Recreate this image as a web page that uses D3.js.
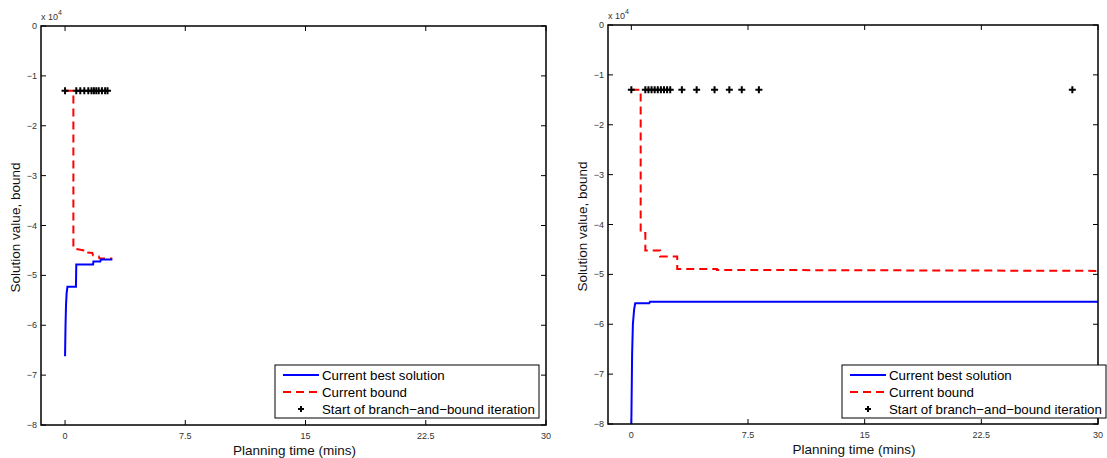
<!DOCTYPE html>
<html>
<head>
<meta charset="utf-8">
<script src="https://cdn.jsdelivr.net/npm/d3@7"></script>
<style>
  body { margin: 0; background: #fff; }
  svg { display: block; font-family: "Liberation Sans", Arial, sans-serif; }
</style>
</head>
<body>
<div id="chart"></div>
<script>
// values are in units of 10^4, time in minutes
var xTicks = [0, 7.5, 15, 22.5, 30];
var xTickLabels = ["0", "7.5", "15", "22.5", "30"];
var yTicks = [0, -1, -2, -3, -4, -5, -6, -7, -8];
var iterLevel = -1.3;

// left run
var leftBestX  = [0, 0.03, 0.06, 0.1, 0.15, 0.68, 0.7, 1.75, 1.77, 2.2, 2.25, 2.95];
var leftBestY  = [-6.62, -6.0, -5.6, -5.35, -5.23, -5.23, -4.78, -4.78, -4.72, -4.72, -4.68, -4.68];
var leftBoundX = [0, 0.52, 0.52, 1.2, 1.2, 1.7, 1.75, 2.1, 2.15, 2.95];
var leftBoundY = [-1.3, -1.3, -4.46, -4.5, -4.54, -4.55, -4.6, -4.62, -4.66, -4.66];
var leftIterX  = [0, 0.7, 0.95, 1.2, 1.45, 1.65, 1.8, 1.95, 2.1, 2.3, 2.5, 2.65];

// right run
var rightBestX  = [0, 0.05, 0.1, 0.18, 0.25, 1.15, 1.2, 30];
var rightBestY  = [-8, -6.6, -6.0, -5.7, -5.58, -5.58, -5.55, -5.55];
var rightBoundX = [0, 0.6, 0.6, 0.9, 0.9, 1.85, 1.85, 2.95, 2.95, 5.5, 5.5, 30];
var rightBoundY = [-1.3, -1.3, -4.17, -4.17, -4.52, -4.52, -4.64, -4.64, -4.89, -4.89, -4.91, -4.93];
var rightIterX  = [0, 0.9, 1.1, 1.3, 1.5, 1.7, 1.9, 2.1, 2.3, 2.5, 3.25, 4.2, 5.35, 6.3, 7.1, 8.2, 28.35];

var legendLabels = ["Current best solution", "Current bound", "Start of branch\u2212and\u2212bound iteration"];

var W = 1107, H = 458;
var svg = d3.select("#chart").append("svg")
    .attr("width", W)
    .attr("height", H);

function zip(xs, ys) {
    return xs.map(function(x, i) { return [x, ys[i]]; });
}

function drawPanel(box, bestX, bestY, boundX, boundY, iterX) {
    var x = d3.scaleLinear().domain([-1.5, 30]).range([box.left, box.right]);
    var y = d3.scaleLinear().domain([-8, 0]).range([box.bottom, box.top]);

    var g = svg.append("g");

    // ticks, inward on all four sides
    var tickLen = 5;
    g.append("g").selectAll("line").data(xTicks).enter().append("line")
        .attr("x1", d => x(d)).attr("x2", d => x(d))
        .attr("y1", box.bottom).attr("y2", box.bottom - tickLen)
        .attr("stroke", "#000").attr("stroke-width", 1);
    g.append("g").selectAll("line").data(xTicks).enter().append("line")
        .attr("x1", d => x(d)).attr("x2", d => x(d))
        .attr("y1", box.top).attr("y2", box.top + tickLen)
        .attr("stroke", "#000").attr("stroke-width", 1);
    g.append("g").selectAll("line").data(yTicks).enter().append("line")
        .attr("x1", box.left).attr("x2", box.left + tickLen)
        .attr("y1", d => y(d)).attr("y2", d => y(d))
        .attr("stroke", "#000").attr("stroke-width", 1);
    g.append("g").selectAll("line").data(yTicks).enter().append("line")
        .attr("x1", box.right).attr("x2", box.right - tickLen)
        .attr("y1", d => y(d)).attr("y2", d => y(d))
        .attr("stroke", "#000").attr("stroke-width", 1);

    // tick labels
    g.append("g").selectAll("text").data(xTicks).enter().append("text")
        .attr("x", d => x(d)).attr("y", box.bottom + 14)
        .attr("text-anchor", "middle")
        .attr("font-size", 9).attr("fill", "#333")
        .text((d, i) => xTickLabels[i]);
    g.append("g").selectAll("text").data(yTicks).enter().append("text")
        .attr("x", box.left - 4).attr("y", d => y(d) + 3)
        .attr("text-anchor", "end")
        .attr("font-size", 9).attr("fill", "#333")
        .text(d => d === 0 ? "0" : "\u2212" + Math.abs(d));

    // exponent label
    var ex = g.append("text")
        .attr("x", box.left).attr("y", box.top - 6)
        .attr("font-size", 9).attr("fill", "#333");
    ex.append("tspan").text("x 10");
    ex.append("tspan").attr("dy", -5).attr("font-size", 7).text("4");

    // axis titles
    g.append("text")
        .attr("x", (box.left + box.right) / 2 + 1).attr("y", box.bottom + 30)
        .attr("text-anchor", "middle").attr("font-size", 13.5).attr("fill", "#111")
        .text("Planning time (mins)");
    g.append("text")
        .attr("transform", "translate(" + (box.left - 21) + "," + ((box.top + box.bottom) / 2 + 2) + ") rotate(-90)")
        .attr("text-anchor", "middle").attr("font-size", 13.5).attr("fill", "#111")
        .text("Solution value, bound");

    var line = d3.line().x(d => x(d[0])).y(d => y(d[1]));

    // current bound
    g.append("path")
        .datum(zip(boundX, boundY))
        .attr("d", line)
        .attr("fill", "none")
        .attr("stroke", "#ff0000")
        .attr("stroke-width", 2)
        .attr("stroke-dasharray", "8,5");

    // current best
    g.append("path")
        .datum(zip(bestX, bestY))
        .attr("d", line)
        .attr("fill", "none")
        .attr("stroke", "#0000ff")
        .attr("stroke-width", 2);

    // branch-and-bound starts
    var plus = g.append("g");
    iterX.forEach(function(t) {
        var px = x(t), py = y(iterLevel);
        plus.append("path")
            .attr("d", "M" + (px - 3.5) + "," + py + "H" + (px + 3.5) + "M" + px + "," + (py - 3.5) + "V" + (py + 3.5))
            .attr("stroke", "#000").attr("stroke-width", 2);
    });

    // frame
    g.append("rect")
        .attr("x", box.left).attr("y", box.top)
        .attr("width", box.right - box.left).attr("height", box.bottom - box.top)
        .attr("fill", "none").attr("stroke", "#000").attr("stroke-width", 1.5);

    // legend
    var lx = box.left + 234, ly = 365;
    var lg = g.append("g").attr("transform", "translate(" + lx + "," + ly + ")");
    lg.append("rect")
        .attr("x", 0).attr("y", 0).attr("width", 264).attr("height", 53)
        .attr("fill", "#fff").attr("stroke", "#000").attr("stroke-width", 1);
    lg.append("line").attr("x1", 8).attr("x2", 44).attr("y1", 10).attr("y2", 10)
        .attr("stroke", "#0000ff").attr("stroke-width", 2);
    lg.append("line").attr("x1", 8).attr("x2", 44).attr("y1", 27).attr("y2", 27)
        .attr("stroke", "#ff0000").attr("stroke-width", 2).attr("stroke-dasharray", "8,5");
    lg.append("path").attr("d", "M23,44H29M26,41V47")
        .attr("stroke", "#000").attr("stroke-width", 2);
    lg.selectAll("text.lbl").data(legendLabels).enter().append("text")
        .attr("class", "lbl")
        .attr("x", 47).attr("y", (d, i) => 15 + i * 17)
        .attr("font-size", 13.3).attr("fill", "#000")
        .text(d => d);
}

drawPanel({left: 41, right: 546, top: 26, bottom: 425},
    leftBestX, leftBestY, leftBoundX, leftBoundY, leftIterX);
drawPanel({left: 608, right: 1098, top: 25, bottom: 424},
    rightBestX, rightBestY, rightBoundX, rightBoundY, rightIterX);
</script>
</body>
</html>
